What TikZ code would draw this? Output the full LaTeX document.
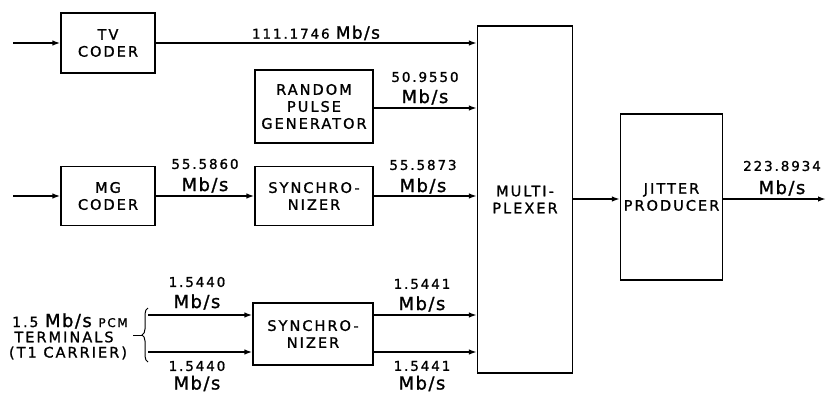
\documentclass[tikz,border=0pt]{standalone}
\usepackage{fontspec}
\setmainfont{DejaVu Sans}[LetterSpace=14,FakeBold=1.2]
\newfontfamily\mbf{DejaVu Sans}[LetterSpace=8,FakeBold=1.2]
\usetikzlibrary{arrows.meta,decorations.pathreplacing}
\tikzset{
  blk/.style={draw,line width=1.2pt,inner sep=0pt,align=center,
    font=\fontsize{14.5}{17}\selectfont},
  arr/.style={line width=1.8pt,-{Latex[length=8pt,width=5.5pt]}},
  num/.style={inner sep=0pt,font=\fontsize{13.5}{16}\selectfont},
  mb/.style={inner sep=0pt,font=\mbf\fontsize{18}{20}\selectfont},
  lbl/.style={inner sep=0pt,font=\fontsize{14.5}{17}\selectfont},
}
\begin{document}
\begin{tikzpicture}[x=1pt,y=-1pt]
\useasboundingbox (0,0) rectangle (828,394);
% blocks
\node[blk,minimum width=94pt,minimum height=60pt] (tv) at (108,43) {TV\\CODER};
\node[blk,minimum width=118pt,minimum height=73pt] (rpg) at (314,106.5) {RANDOM\\PULSE\\GENERATOR};
\node[blk,minimum width=94pt,minimum height=59pt] (mg) at (108,196) {MG\\CODER};
\node[blk,minimum width=118pt,minimum height=59pt] (sa) at (314,196) {SYNCHRO-\\NIZER};
\node[blk,minimum width=120pt,minimum height=62pt] (sb) at (313,334) {SYNCHRO-\\NIZER};
\node[blk,minimum width=95pt,minimum height=347pt] (mux) at (525,199.5) {MULTI-\\PLEXER};
\node[blk,minimum width=102pt,minimum height=166pt] (jit) at (671.5,197) {JITTER\\PRODUCER};
% free ends
\coordinate (tvin) at (13,43);
\coordinate (mgin) at (13,196);
\coordinate (ina) at (148,315);
\coordinate (inb) at (148,352);
\coordinate (rpgo) at (373,108);
\coordinate (out) at (826,199);
% connectors
\draw[arr] (tvin) -- (tv.west);
\draw[arr] (tv.east) -- (tv.east -| mux.west);
\draw[arr] (rpg.east |- rpgo) -- (rpgo -| mux.west);
\draw[arr] (mgin) -- (mg.west);
\draw[arr] (mg.east) -- (sa.west);
\draw[arr] (sa.east) -- (sa.east -| mux.west);
\draw[arr] (ina) -- (ina -| sb.west);
\draw[arr] (inb) -- (inb -| sb.west);
\draw[arr] (sb.east |- ina) -- (ina -| mux.west);
\draw[arr] (sb.east |- inb) -- (inb -| mux.west);
\draw[arr] (mux.east |- out) -- (jit.west |- out);
\draw[arr] (jit.east |- out) -- (out);
% brace
\coordinate (brb) at (148,362);
\coordinate (brt) at (148,308);
\coordinate (brtip) at (142,335);
\coordinate (tick) at (133,335);
\draw[line width=1pt,decorate,decoration={brace,amplitude=6pt}] (brb) -- (brt);
\draw[line width=1pt] (tick) -- (brtip);
% labels
\node[num] (l1) at (316,33) {111.1746 {\mbf\fontsize{17}{20}\selectfont Mb/s}};
\node[num] (l2a) at (425,77) {50.9550};
\node[mb] (l2b) at (425,97) {Mb/s};
\node[num] (l3a) at (205,164) {55.5860};
\node[mb] (l3b) at (205,185) {Mb/s};
\node[num] (l4a) at (423,165) {55.5873};
\node[mb] (l4b) at (423,186) {Mb/s};
\node[num] (l5a) at (782,166) {223.8934};
\node[mb] (l5b) at (782,188) {Mb/s};
\node[num] (l6a) at (197,282) {1.5440};
\node[mb] (l6b) at (197,302) {Mb/s};
\node[num] (l7a) at (197,366) {1.5440};
\node[mb] (l7b) at (197,383.5) {Mb/s};
\node[num] (l8a) at (422,284) {1.5441};
\node[mb] (l8b) at (422,304) {Mb/s};
\node[num] (l9a) at (422,366) {1.5441};
\node[mb] (l9b) at (422,383.5) {Mb/s};
\node[lbl] (t1) at (70,321) {{\fontsize{14}{16}\selectfont 1.5} {\mbf\fontsize{18}{20}\selectfont Mb/s} {\fontsize{12}{14}\selectfont PCM}};
\node[lbl] (t2) at (64,337) {TERMINALS};
\node[lbl] (t3) at (68,353) {(T1 CARRIER)};
\end{tikzpicture}
\end{document}
